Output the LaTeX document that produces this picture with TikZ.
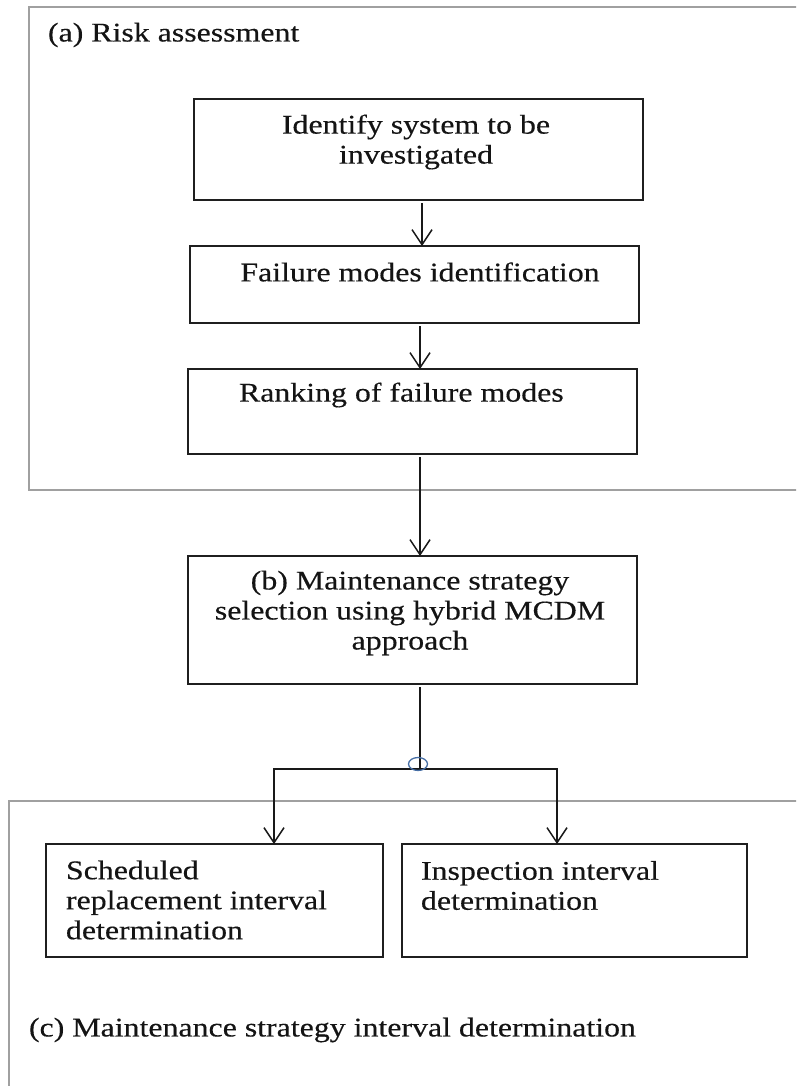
\documentclass[tikz,border=0pt]{standalone}
\usepackage{fontspec}
\setmainfont{Liberation Serif}[FakeStretch=1.18, FakeBold=0.35]
\usetikzlibrary{arrows.meta}
\definecolor{framegray}{RGB}{160,160,160}
\definecolor{jointblue}{RGB}{70,110,165}
\begin{document}
\begin{tikzpicture}[x=1pt,y=-1pt,
  every node/.style={inner sep=0pt, outer sep=0pt},
  txt/.style={font=\fontsize{27}{30}\selectfont, text=black!92},
  stepbox/.style={draw=black!88, line width=1.6pt, rectangle},
  frame/.style={draw=framegray, line width=1.6pt},
  link/.style={draw=black!90, line width=1.5pt},
  flow/.style={link, -{Straight Barb[length=15pt,width=20pt,line width=1.5pt]}},
]
\useasboundingbox (0,0) rectangle (796,1086);
\clip (0,0) rectangle (796,1086);

% group frames (open to the right / bottom)
\draw[frame] (29,7) rectangle (820,490);
\draw[frame] (9,801) rectangle (820,1110);

% process boxes
\node[stepbox, minimum width=449pt, minimum height=101pt] (identify) at (418.5,149.5) {};
\node[stepbox, minimum width=449pt, minimum height=77pt]  (failure)  at (414.5,284.5) {};
\node[stepbox, minimum width=449pt, minimum height=85pt]  (ranking)  at (412.5,411.5) {};
\node[stepbox, minimum width=449pt, minimum height=128pt] (mcdm)     at (412.5,620) {};
\node[stepbox, minimum width=337pt, minimum height=113pt] (sched)    at (214.5,900.5) {};
\node[stepbox, minimum width=345pt, minimum height=113pt] (insp)     at (574.5,900.5) {};

% texts
\node[txt, anchor=west] (aLabel) at (48,35) {(a) Risk assessment};
\node[txt, align=center] (identifyT) at (416,142) {Identify system to be\\investigated};
\node[txt] (failureT) at (420,272) {Failure modes identification};
\node[txt, anchor=west] (rankingT) at (239,395) {Ranking of failure modes};
\node[txt, align=center] (mcdmT) at (410,613) {(b) Maintenance strategy\\selection using hybrid MCDM\\approach};
\node[txt, align=left, anchor=west] (schedT) at (66,900) {Scheduled\\replacement interval\\determination};
\node[txt, align=left, anchor=west] (inspT) at (421,885.5) {Inspection interval\\determination};
\node[txt, anchor=west] (cLabel) at (29,1030) {(c) Maintenance strategy interval determination};

% connector columns and junction points
\coordinate (colA) at (422,0);
\coordinate (colB) at (420,0);
\coordinate (split) at (420,769);
\coordinate (jl) at (274,769);
\coordinate (jr) at (557,769);

\draw[flow, shorten <=3pt] (identify.south -| colA) -- (failure.north -| colA);
\draw[flow, shorten <=3pt] (failure.south -| colB) -- (ranking.north -| colB);
\draw[flow, shorten <=3pt] (ranking.south -| colB) -- (mcdm.north -| colB);
\draw[link, shorten <=3pt] (mcdm.south -| split) -- (split);
\draw[flow] (split) -- (jl) -- (sched.north -| jl);
\draw[flow] (split) -- (jr) -- (insp.north -| jr);

% small joint marker on the branch point
\draw[jointblue, line width=1.3pt] (418,764) ellipse [x radius=9.5pt, y radius=6.5pt];
\end{tikzpicture}
\end{document}
